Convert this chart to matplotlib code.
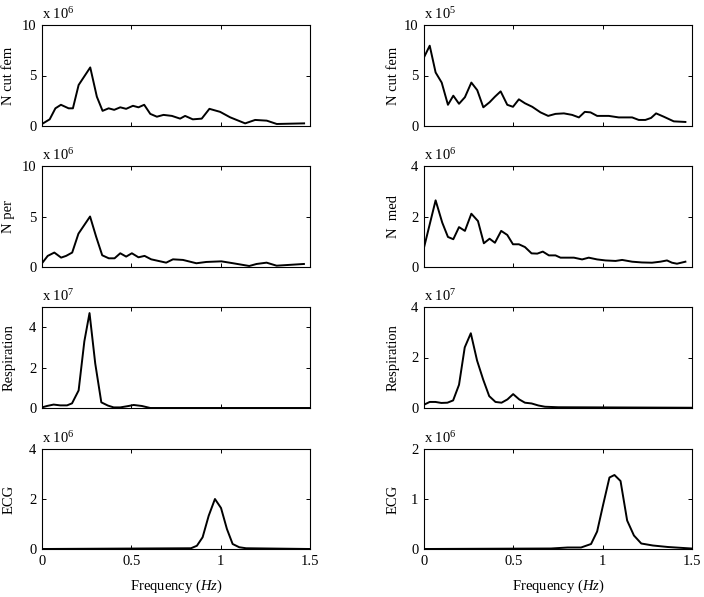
import matplotlib
matplotlib.use("Agg")
import matplotlib.pyplot as plt

plt.rcParams["font.family"] = "Liberation Serif"
plt.rcParams["mathtext.fontset"] = "custom"
plt.rcParams["mathtext.rm"] = "Liberation Serif"
plt.rcParams["mathtext.it"] = "Liberation Serif:italic"

# ---- left column ----
f_ncut_l = [0, 0.043, 0.075, 0.106, 0.149, 0.173, 0.205, 0.270, 0.307, 0.339, 0.373, 0.404,
            0.438, 0.471, 0.509, 0.540, 0.572, 0.606, 0.643, 0.680, 0.727, 0.773, 0.801,
            0.844, 0.894, 0.937, 0.997, 1.053, 1.137, 1.193, 1.258, 1.314, 1.467]
ncut_l = [0.2, 0.66, 1.75, 2.1, 1.75, 1.75, 4.06, 5.8, 2.9, 1.5, 1.75, 1.6,
          1.85, 1.7, 2.0, 1.85, 2.1, 1.2, 0.92, 1.1, 1.0, 0.73, 1.0,
          0.66, 0.73, 1.7, 1.4, 0.86, 0.26, 0.6, 0.53, 0.2, 0.26]

f_nper = [0, 0.032, 0.069, 0.107, 0.135, 0.169, 0.204, 0.269, 0.303, 0.337, 0.374, 0.406,
          0.438, 0.471, 0.503, 0.540, 0.574, 0.611, 0.695, 0.733, 0.789, 0.864, 0.920,
          1.004, 1.070, 1.160, 1.201, 1.257, 1.313, 1.466]
nper = [0.37, 1.1, 1.43, 0.93, 1.1, 1.43, 3.3, 5.0, 3.0, 1.16, 0.86, 0.86,
        1.36, 1.03, 1.36, 0.96, 1.1, 0.76, 0.43, 0.76, 0.7, 0.37, 0.5,
        0.56, 0.37, 0.1, 0.3, 0.43, 0.13, 0.3]

f_resp_l = [0, 0.028, 0.065, 0.102, 0.140, 0.168, 0.205, 0.237, 0.266, 0.298, 0.332, 0.369,
            0.401, 0.438, 0.485, 0.513, 0.559, 0.606, 1.5]
resp_l = [0.03, 0.1, 0.17, 0.13, 0.13, 0.23, 0.87, 3.3, 4.7, 2.2, 0.28, 0.12,
          0.03, 0.03, 0.1, 0.15, 0.1, 0.0, 0.0]

f_ecg_l = [0, 0.834, 0.867, 0.899, 0.933, 0.968, 1.002, 1.035, 1.067, 1.104, 1.142, 1.5]
ecg_l = [0.0, 0.03, 0.13, 0.47, 1.33, 2.0, 1.64, 0.8, 0.2, 0.07, 0.03, 0.0]

# ---- right column ----
f_ncut_r = [0, 0.032, 0.065, 0.099, 0.134, 0.164, 0.196, 0.229, 0.265, 0.298, 0.332, 0.367,
            0.397, 0.429, 0.466, 0.498, 0.531, 0.565, 0.606, 0.652, 0.695, 0.736, 0.783,
            0.829, 0.867, 0.900, 0.932, 0.969, 1.034, 1.090, 1.165, 1.202, 1.239, 1.271,
            1.299, 1.342, 1.398, 1.463]
ncut_r = [6.8, 7.95, 5.3, 4.3, 2.1, 3.0, 2.2, 2.85, 4.3, 3.55, 1.85, 2.35,
          2.9, 3.43, 2.1, 1.9, 2.64, 2.25, 1.9, 1.35, 1.0, 1.2, 1.25,
          1.1, 0.85, 1.4, 1.35, 1.0, 1.0, 0.85, 0.85, 0.6, 0.6, 0.8,
          1.25, 0.92, 0.46, 0.4]

f_nmed = [0, 0.065, 0.102, 0.134, 0.164, 0.196, 0.229, 0.265, 0.302, 0.335, 0.367, 0.397,
          0.432, 0.466, 0.498, 0.531, 0.565, 0.602, 0.634, 0.665, 0.699, 0.736, 0.764,
          0.839, 0.885, 0.922, 0.969, 1.016, 1.072, 1.109, 1.165, 1.220, 1.276, 1.323,
          1.360, 1.388, 1.416, 1.463]
nmed = [0.77, 2.64, 1.76, 1.19, 1.1, 1.58, 1.43, 2.11, 1.82, 0.94, 1.12, 0.96,
        1.43, 1.27, 0.9, 0.9, 0.79, 0.54, 0.53, 0.61, 0.46, 0.46, 0.37,
        0.37, 0.3, 0.37, 0.3, 0.26, 0.24, 0.28, 0.21, 0.18, 0.17, 0.21,
        0.26, 0.17, 0.13, 0.21]

f_resp_r = [0, 0.032, 0.064, 0.097, 0.131, 0.163, 0.196, 0.228, 0.262, 0.297, 0.331, 0.365,
            0.400, 0.434, 0.467, 0.499, 0.533, 0.565, 0.602, 0.640, 0.677, 0.752, 1.5]
resp_r = [0.13, 0.24, 0.24, 0.2, 0.21, 0.3, 0.92, 2.4, 2.96, 1.88, 1.13, 0.47,
          0.24, 0.21, 0.34, 0.55, 0.34, 0.21, 0.18, 0.1, 0.05, 0.03, 0.01]

f_ecg_r = [0, 0.711, 0.804, 0.879, 0.935, 0.969, 1.001, 1.038, 1.066, 1.100, 1.137, 1.175,
           1.216, 1.281, 1.365, 1.496]
ecg_r = [0.0, 0.01, 0.03, 0.03, 0.1, 0.35, 0.86, 1.43, 1.48, 1.36, 0.57, 0.27,
         0.11, 0.07, 0.04, 0.01]

# (x, y, ylabel, exponent, ymax, yticks)
left_panels = [
    (f_ncut_l, ncut_l, "N cut fem", 6, 10, [0, 5, 10]),
    (f_nper, nper, "N per", 6, 10, [0, 5, 10]),
    (f_resp_l, resp_l, "Respiration", 7, 5, [0, 2, 4]),
    (f_ecg_l, ecg_l, "ECG", 6, 4, [0, 2, 4]),
]
right_panels = [
    (f_ncut_r, ncut_r, "N cut fem", 5, 10, [0, 5, 10]),
    (f_nmed, nmed, "N  med", 6, 4, [0, 2, 4]),
    (f_resp_r, resp_r, "Respiration", 7, 4, [0, 2, 4]),
    (f_ecg_r, ecg_r, "ECG", 6, 2, [0, 1, 2]),
]

W, H = 704, 597
fig = plt.figure(figsize=(W / 100, H / 100), dpi=100)

rows_px = [(25, 126), (166, 267), (307, 408), (449, 549)]
cols_px = [(42, 310), (424, 692)]
label_x = [-0.10, -0.09]  # right edge of the rotated ylabel, axes coords

for c, panels in enumerate([left_panels, right_panels]):
    x0, x1 = cols_px[c]
    for r, (xs, ys, lab, ex, ymax, yt) in enumerate(panels):
        top, bot = rows_px[r]
        ax = fig.add_axes([x0 / W, 1 - bot / H, (x1 - x0) / W, (bot - top) / H])
        ax.plot(xs, ys, color="black", lw=1.4)
        ax.set_xlim(0, 1.5)
        ax.set_ylim(0, ymax)
        ax.set_xticks([0, 0.5, 1, 1.5])
        ax.set_yticks(yt)
        ax.tick_params(direction="in", top=True, right=True, length=3, width=0.7,
                       labelsize=10.5, pad=4)
        for s in ax.spines.values():
            s.set_linewidth(0.8)
        if r == 3:
            ax.set_xticklabels(["0", "0.5", "1", "1.5"])
            ax.set_xlabel("Frequency ($\\mathit{Hz}$)", fontsize=10.5, labelpad=7)
        else:
            ax.set_xticklabels([])
        ax.set_ylabel(lab, fontsize=10.5)
        ax.yaxis.set_label_coords(label_x[c], 0.5)
        ax.text(0.0, 1.03, "x 10$^{%d}$" % ex, transform=ax.transAxes,
                ha="left", va="bottom", fontsize=10.5)

fig.savefig("out.png", dpi=100)
